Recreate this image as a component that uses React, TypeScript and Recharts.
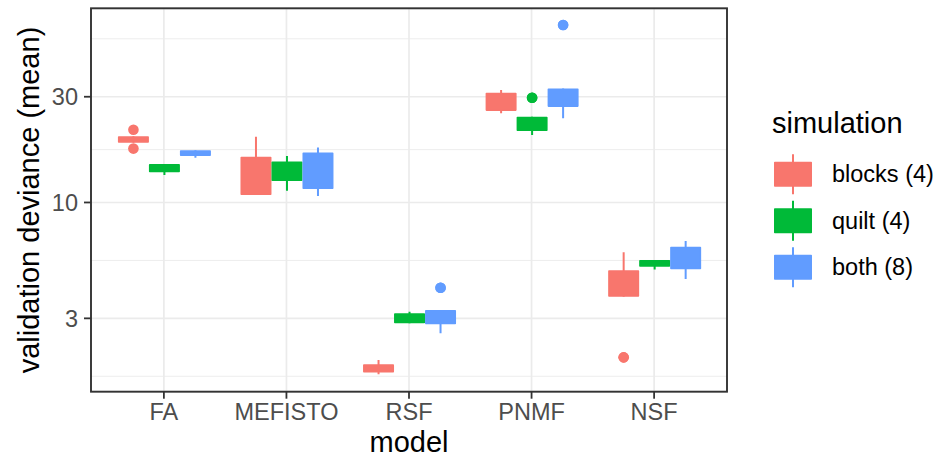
import React from "react";
import {
  ComposedChart,
  Bar,
  XAxis,
  YAxis,
  CartesianGrid,
  Legend,
} from "recharts";

const FONT = '"Liberation Sans", Arial, Helvetica, sans-serif';

const models = ["FA", "MEFISTO", "RSF", "PNMF", "NSF"];
const simulations = ["blocks (4)", "quilt (4)", "both (8)"];
const seriesKeys = ["blocks", "quilt", "both"];
const colors = ["#F8766D", "#00BA38", "#619CFF"];

// box summaries (log scale)
const blocksLow = [18.6, 10.8, 1.68, 25.25, 3.75];
const blocksQ1 = [18.6, 10.8, 1.71, 25.9, 3.75];
const blocksQ3 = [19.9, 16.1, 1.86, 31.3, 4.95];
const blocksHigh = [19.9, 19.8, 1.945, 32.2, 5.96];
const blocksOut = [[21.3, 17.5], [], [], [], [2.0]];

const quiltLow = [13.3, 11.3, 2.85, 20.15, 4.99];
const quiltQ1 = [13.7, 12.5, 2.85, 21.0, 5.13];
const quiltQ3 = [14.9, 15.3, 3.16, 24.4, 5.5];
const quiltHigh = [14.9, 16.2, 3.21, 24.4, 5.5];
const quiltOut = [[], [], [], [29.7], []];

const bothLow = [15.9, 10.7, 2.57, 24.0, 4.51];
const bothQ1 = [16.2, 11.5, 2.82, 27.0, 5.0];
const bothQ3 = [17.2, 16.8, 3.27, 32.7, 6.31];
const bothHigh = [17.2, 17.7, 3.27, 32.7, 6.7];
const bothOut = [[], [], [4.12], [63.2], []];

const yTicks = [3, 10, 30];
const yMinor = [1.643, 5.477, 17.32, 54.77];
const yDomain = [1.4, 75.2];

const summaries: Record<string, number[][]> = {
  blocks: [blocksLow, blocksQ1, blocksQ3, blocksHigh],
  quilt: [quiltLow, quiltQ1, quiltQ3, quiltHigh],
  both: [bothLow, bothQ1, bothQ3, bothHigh],
};
const outliers: Record<string, number[][]> = {
  blocks: blocksOut,
  quilt: quiltOut,
  both: bothOut,
};

const data = models.map((model, i) => {
  const row: any = { model };
  seriesKeys.forEach((k) => {
    const [lo, q1, q3, hi] = summaries[k];
    row[k + "_box"] = [q1[i], q3[i]];
    row[k + "_whisker"] = [lo[i], hi[i]];
    const o = outliers[k][i];
    row[k + "_out"] = o.length ? [Math.min(...o), Math.max(...o)] : null;
  });
  return row;
});

// chart geometry
const W = 933;
const H = 457;
const M = { top: 8.3, right: 206, bottom: 0, left: 0 };
const Y_AXIS_W = 91;
const X_AXIS_H = 65.3;
const SW = 1.6;
const TITLE_SIZE = 29;
const TICK_SIZE = 23.5;

const BoxShape = (props: any) => {
  const { x, y, width, height, fill } = props;
  if (!Number.isFinite(x) || !Number.isFinite(y) || !Number.isFinite(height)) return null;
  const top = Math.min(y, y + height);
  const h = Math.abs(height);
  return (
    <rect
      x={x + SW / 2}
      y={top + SW / 2}
      width={Math.max(width - SW, 0)}
      height={Math.max(h - SW, 0.1)}
      fill={fill}
      stroke={fill}
      strokeWidth={SW}
      strokeLinejoin="round"
    />
  );
};

const WhiskerShape = (props: any) => {
  const { x, y, width, height, fill } = props;
  if (!Number.isFinite(x) || !Number.isFinite(y) || !Number.isFinite(height)) return null;
  const top = Math.min(y, y + height);
  const cx = x + width / 2;
  return <line x1={cx} x2={cx} y1={top} y2={top + Math.abs(height)} stroke={fill} strokeWidth={2} />;
};

const OutlierShape = (props: any) => {
  const { x, y, width, height, fill } = props;
  if (!Number.isFinite(x) || !Number.isFinite(y) || !Number.isFinite(height)) return null;
  const top = Math.min(y, y + height);
  const cx = x + width / 2;
  return (
    <g>
      <circle cx={cx} cy={top} r={5.3} fill={fill} />
      <circle cx={cx} cy={top + Math.abs(height)} r={5.3} fill={fill} />
    </g>
  );
};

const YTitle = (props: any) => {
  const vb = props.viewBox || { x: 0, y: M.top, width: Y_AXIS_W, height: 383 };
  const cx = vb.x + 39;
  const cy = vb.y + vb.height / 2;
  return (
    <text
      x={cx}
      y={cy}
      transform={`rotate(-90 ${cx} ${cy})`}
      textAnchor="middle"
      fontSize={TITLE_SIZE}
      fontFamily={FONT}
      fill="#000"
    >
      validation deviance (mean)
    </text>
  );
};

const XTitle = (props: any) => {
  const vb = props.viewBox || { x: Y_AXIS_W, y: H - X_AXIS_H, width: 636, height: X_AXIS_H };
  return (
    <text
      x={vb.x + vb.width / 2}
      y={vb.y + 60}
      textAnchor="middle"
      fontSize={TITLE_SIZE}
      fontFamily={FONT}
      fill="#000"
    >
      model
    </text>
  );
};

const LegendContent = () => (
  <svg width={173} height={200} style={{ display: "block", overflow: "visible" }}>
    <text x={12} y={33} fontSize={TITLE_SIZE} fontFamily={FONT} fill="#000">
      simulation
    </text>
    {simulations.map((s, i) => {
      const cy = 74.2 + i * 46.5;
      return (
        <g key={s}>
          <line x1={33} x2={33} y1={cy - 20} y2={cy + 20} stroke={colors[i]} strokeWidth={2} />
          <rect
            x={14.8}
            y={cy - 11.7}
            width={36.4}
            height={23.4}
            fill={colors[i]}
            stroke={colors[i]}
            strokeWidth={SW}
            strokeLinejoin="round"
          />
          <text x={72} y={cy} dy="0.35em" fontSize={TICK_SIZE} fontFamily={FONT} fill="#000">
            {s}
          </text>
        </g>
      );
    })}
  </svg>
);

const tickStyle = { fontSize: TICK_SIZE, fill: "#4D4D4D", fontFamily: FONT };
const tickLineStyle = { stroke: "#333333", strokeWidth: 1.8 };
const xPad = { left: 11.6, right: 11.6 };

export default function App() {
  const plotX = M.left + Y_AXIS_W;
  const plotY = M.top;
  const plotW = W - M.right - plotX;
  const plotH = H - M.bottom - X_AXIS_H - plotY;
  return (
    <div style={{ position: "absolute", left: 0, top: 0, width: W, height: H, background: "#fff" }}>
      <ComposedChart
        width={W}
        height={H}
        data={data}
        margin={M}
        barCategoryGap="12.5%"
        barGap={0}
      >
        <CartesianGrid vertical={false} horizontalValues={yMinor} stroke="#EDEDED" strokeWidth={1} />
        <CartesianGrid stroke="#EBEBEB" strokeWidth={1.7} />
        <XAxis
          dataKey="model"
          interval={0}
          padding={xPad}
          height={X_AXIS_H}
          tick={tickStyle}
          tickSize={7}
          tickMargin={5}
          tickLine={tickLineStyle}
          axisLine={false}
          label={<XTitle />}
        />
        <XAxis xAxisId="wh" dataKey="model" padding={xPad} hide />
        <XAxis xAxisId="out" dataKey="model" padding={xPad} hide />
        <YAxis
          scale="log"
          type="number"
          domain={yDomain}
          allowDataOverflow
          ticks={yTicks}
          width={Y_AXIS_W}
          tick={tickStyle}
          tickSize={7}
          tickMargin={6}
          tickLine={tickLineStyle}
          axisLine={false}
          label={<YTitle />}
        />
        <Legend
          layout="vertical"
          align="center"
          verticalAlign="middle"
          wrapperStyle={{ left: 760, top: 100, width: 173 }}
          content={<LegendContent />}
        />
        {seriesKeys.map((k, i) => (
          <Bar
            key={k + "_w"}
            xAxisId="wh"
            dataKey={k + "_whisker"}
            fill={colors[i]}
            shape={<WhiskerShape />}
            isAnimationActive={false}
          />
        ))}
        {seriesKeys.map((k, i) => (
          <Bar
            key={k + "_b"}
            dataKey={k + "_box"}
            name={simulations[i]}
            fill={colors[i]}
            shape={<BoxShape />}
            isAnimationActive={false}
          />
        ))}
        {seriesKeys.map((k, i) => (
          <Bar
            key={k + "_o"}
            xAxisId="out"
            dataKey={k + "_out"}
            fill={colors[i]}
            shape={<OutlierShape />}
            isAnimationActive={false}
          />
        ))}
      </ComposedChart>
      {/* panel border, theme_bw style */}
      <svg
        width={W}
        height={H}
        style={{ position: "absolute", left: 0, top: 0, pointerEvents: "none" }}
      >
        <rect x={plotX} y={plotY} width={plotW} height={plotH} fill="none" stroke="#333333" strokeWidth={1.9} />
      </svg>
    </div>
  );
}
